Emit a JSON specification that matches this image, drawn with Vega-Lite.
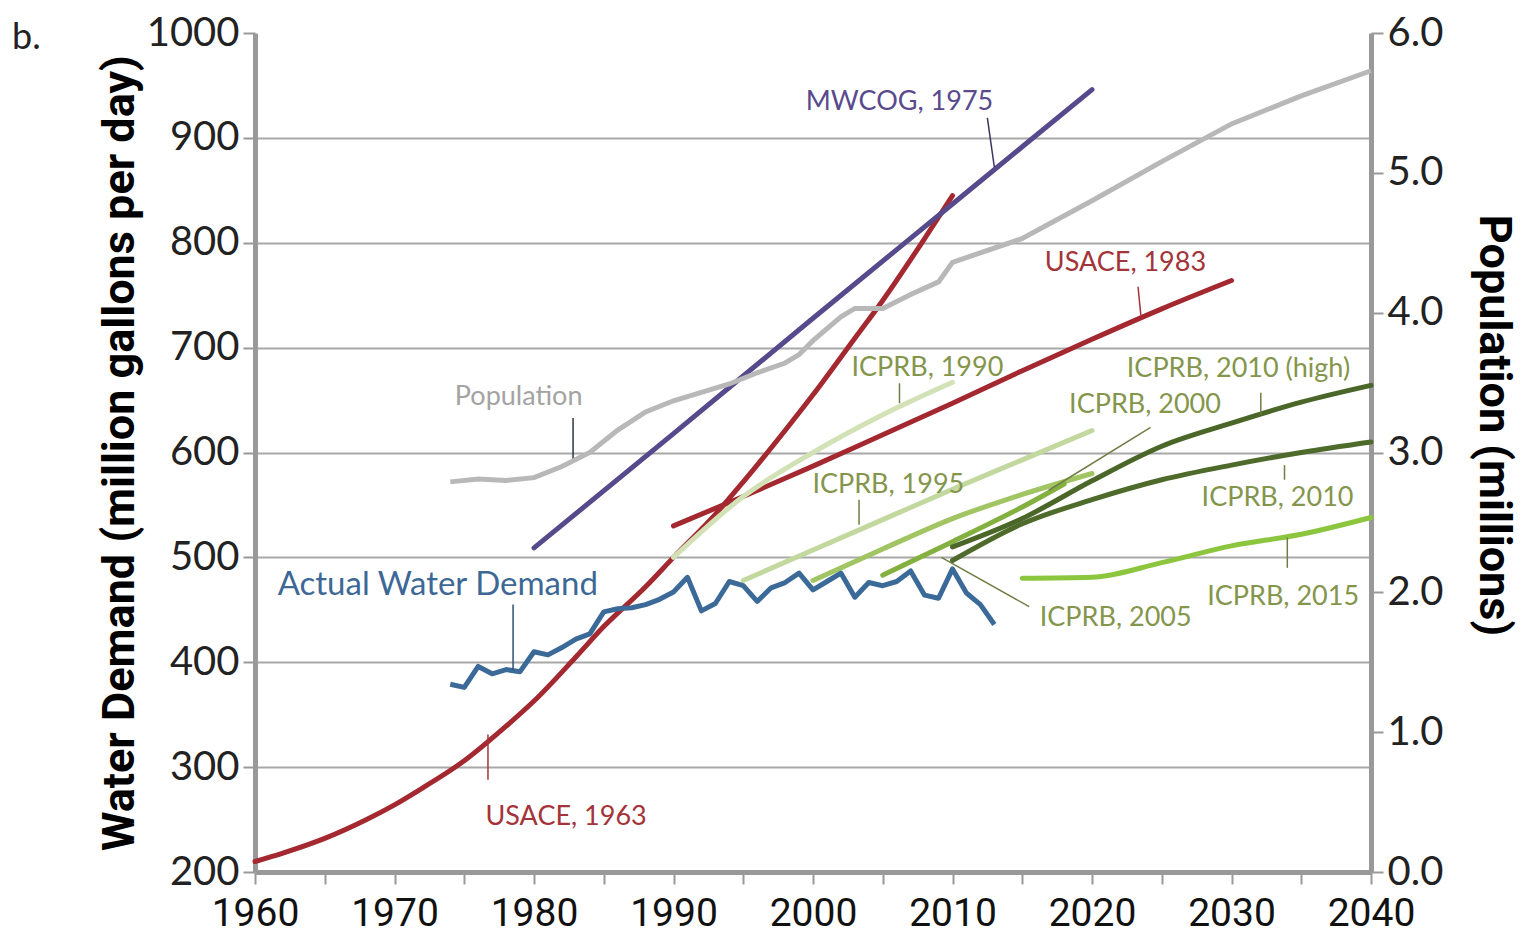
{
  "$schema": "https://vega.github.io/schema/vega-lite/v6.json",
  "width": 1116,
  "height": 839,
  "autosize": "none",
  "padding": {"left": 255, "top": 33, "right": 152, "bottom": 66},
  "background": "white",
  "config": {"view": {"stroke": null}, "font": "Lato"},
  "title": {"text": "b.", "anchor": "start", "frame": "group", "dx": -243, "dy": 44, "offset": 0, "fontSize": 36, "fontWeight": "normal", "font": "Lato", "color": "#222"},
  "datasets": {
    "actual": [
      {"year": 1974, "value": 379}, {"year": 1975, "value": 376}, {"year": 1976, "value": 396}, {"year": 1977, "value": 389},
      {"year": 1978, "value": 393}, {"year": 1979, "value": 391}, {"year": 1980, "value": 410}, {"year": 1981, "value": 407},
      {"year": 1982, "value": 414}, {"year": 1983, "value": 422}, {"year": 1984, "value": 427}, {"year": 1985, "value": 448},
      {"year": 1986, "value": 451}, {"year": 1987, "value": 452}, {"year": 1988, "value": 455}, {"year": 1989, "value": 460},
      {"year": 1990, "value": 467}, {"year": 1991, "value": 481}, {"year": 1992, "value": 449}, {"year": 1993, "value": 456},
      {"year": 1994, "value": 477}, {"year": 1995, "value": 473}, {"year": 1996, "value": 458}, {"year": 1997, "value": 471},
      {"year": 1998, "value": 476}, {"year": 1999, "value": 485}, {"year": 2000, "value": 469}, {"year": 2001, "value": 477},
      {"year": 2002, "value": 485}, {"year": 2003, "value": 462}, {"year": 2004, "value": 476}, {"year": 2005, "value": 473},
      {"year": 2006, "value": 477}, {"year": 2007, "value": 487}, {"year": 2008, "value": 464}, {"year": 2009, "value": 461},
      {"year": 2010, "value": 489}, {"year": 2011, "value": 466}, {"year": 2012, "value": 455}, {"year": 2013, "value": 436}
    ],
    "projections": [
      {"series": "USACE, 1963", "year": 1960, "value": 210}, {"series": "USACE, 1963", "year": 1962, "value": 218},
      {"series": "USACE, 1963", "year": 1965, "value": 232}, {"series": "USACE, 1963", "year": 1968, "value": 250},
      {"series": "USACE, 1963", "year": 1970, "value": 264}, {"series": "USACE, 1963", "year": 1972, "value": 280},
      {"series": "USACE, 1963", "year": 1975, "value": 306}, {"series": "USACE, 1963", "year": 1978, "value": 339},
      {"series": "USACE, 1963", "year": 1980, "value": 363}, {"series": "USACE, 1963", "year": 1983, "value": 405},
      {"series": "USACE, 1963", "year": 1985, "value": 434}, {"series": "USACE, 1963", "year": 1988, "value": 472},
      {"series": "USACE, 1963", "year": 1990, "value": 500}, {"series": "USACE, 1963", "year": 1993, "value": 541},
      {"series": "USACE, 1963", "year": 1995, "value": 572}, {"series": "USACE, 1963", "year": 1998, "value": 621},
      {"series": "USACE, 1963", "year": 2000, "value": 655}, {"series": "USACE, 1963", "year": 2003, "value": 709},
      {"series": "USACE, 1963", "year": 2005, "value": 745}, {"series": "USACE, 1963", "year": 2008, "value": 804},
      {"series": "USACE, 1963", "year": 2010, "value": 845},
      {"series": "MWCOG, 1975", "year": 1980, "value": 509}, {"series": "MWCOG, 1975", "year": 1990, "value": 618},
      {"series": "MWCOG, 1975", "year": 2000, "value": 728}, {"series": "MWCOG, 1975", "year": 2010, "value": 837},
      {"series": "MWCOG, 1975", "year": 2020, "value": 946},
      {"series": "USACE, 1983", "year": 1990, "value": 530}, {"series": "USACE, 1983", "year": 1995, "value": 558},
      {"series": "USACE, 1983", "year": 2000, "value": 587}, {"series": "USACE, 1983", "year": 2005, "value": 617},
      {"series": "USACE, 1983", "year": 2010, "value": 647}, {"series": "USACE, 1983", "year": 2015, "value": 678},
      {"series": "USACE, 1983", "year": 2020, "value": 708}, {"series": "USACE, 1983", "year": 2025, "value": 737},
      {"series": "USACE, 1983", "year": 2030, "value": 764},
      {"series": "ICPRB, 1990", "year": 1990, "value": 500}, {"series": "ICPRB, 1990", "year": 1995, "value": 558},
      {"series": "ICPRB, 1990", "year": 2000, "value": 600}, {"series": "ICPRB, 1990", "year": 2005, "value": 636},
      {"series": "ICPRB, 1990", "year": 2010, "value": 667},
      {"series": "ICPRB, 1995", "year": 1995, "value": 478}, {"series": "ICPRB, 1995", "year": 2000, "value": 507},
      {"series": "ICPRB, 1995", "year": 2005, "value": 536}, {"series": "ICPRB, 1995", "year": 2010, "value": 565},
      {"series": "ICPRB, 1995", "year": 2015, "value": 593}, {"series": "ICPRB, 1995", "year": 2020, "value": 621},
      {"series": "ICPRB, 2000", "year": 2000, "value": 478}, {"series": "ICPRB, 2000", "year": 2005, "value": 508},
      {"series": "ICPRB, 2000", "year": 2010, "value": 537}, {"series": "ICPRB, 2000", "year": 2015, "value": 560},
      {"series": "ICPRB, 2000", "year": 2020, "value": 580},
      {"series": "ICPRB, 2005", "year": 2005, "value": 483}, {"series": "ICPRB, 2005", "year": 2010, "value": 515},
      {"series": "ICPRB, 2005", "year": 2015, "value": 548}, {"series": "ICPRB, 2005", "year": 2018, "value": 570},
      {"series": "ICPRB, 2010", "year": 2010, "value": 497}, {"series": "ICPRB, 2010", "year": 2015, "value": 532},
      {"series": "ICPRB, 2010", "year": 2020, "value": 555}, {"series": "ICPRB, 2010", "year": 2025, "value": 574},
      {"series": "ICPRB, 2010", "year": 2030, "value": 588}, {"series": "ICPRB, 2010", "year": 2035, "value": 600},
      {"series": "ICPRB, 2010", "year": 2040, "value": 610},
      {"series": "ICPRB, 2010 (high)", "year": 2010, "value": 510}, {"series": "ICPRB, 2010 (high)", "year": 2015, "value": 537},
      {"series": "ICPRB, 2010 (high)", "year": 2020, "value": 573}, {"series": "ICPRB, 2010 (high)", "year": 2025, "value": 606},
      {"series": "ICPRB, 2010 (high)", "year": 2030, "value": 628}, {"series": "ICPRB, 2010 (high)", "year": 2035, "value": 648},
      {"series": "ICPRB, 2010 (high)", "year": 2040, "value": 664},
      {"series": "ICPRB, 2015", "year": 2015, "value": 480}, {"series": "ICPRB, 2015", "year": 2020, "value": 481},
      {"series": "ICPRB, 2015", "year": 2025, "value": 495}, {"series": "ICPRB, 2015", "year": 2030, "value": 511},
      {"series": "ICPRB, 2015", "year": 2035, "value": 522}, {"series": "ICPRB, 2015", "year": 2040, "value": 538}
    ],
    "population": [
      {"year": 1974, "pop": 2.79}, {"year": 1976, "pop": 2.81}, {"year": 1978, "pop": 2.80}, {"year": 1980, "pop": 2.82},
      {"year": 1982, "pop": 2.90}, {"year": 1984, "pop": 3.00}, {"year": 1986, "pop": 3.16}, {"year": 1988, "pop": 3.29},
      {"year": 1990, "pop": 3.37}, {"year": 1992, "pop": 3.43}, {"year": 1994, "pop": 3.49}, {"year": 1996, "pop": 3.57},
      {"year": 1998, "pop": 3.64}, {"year": 1999, "pop": 3.70}, {"year": 2000, "pop": 3.80}, {"year": 2002, "pop": 3.97},
      {"year": 2003, "pop": 4.03}, {"year": 2005, "pop": 4.03}, {"year": 2007, "pop": 4.13}, {"year": 2009, "pop": 4.22},
      {"year": 2010, "pop": 4.36}, {"year": 2015, "pop": 4.53}, {"year": 2020, "pop": 4.80}, {"year": 2025, "pop": 5.08},
      {"year": 2030, "pop": 5.35}, {"year": 2035, "pop": 5.55}, {"year": 2040, "pop": 5.73}
    ],
    "labels": [
      {"kind": "MWCOG", "label": "MWCOG, 1975", "year": 2006.2, "value": 934},
      {"kind": "Population", "label": "Population", "year": 1978.9, "value": 653},
      {"kind": "ICPRB", "label": "ICPRB, 1990", "year": 2008.2, "value": 681},
      {"kind": "USACE", "label": "USACE, 1983", "year": 2022.4, "value": 781},
      {"kind": "ICPRB", "label": "ICPRB, 2010 (high)", "year": 2030.5, "value": 680},
      {"kind": "ICPRB", "label": "ICPRB, 2000", "year": 2023.8, "value": 645},
      {"kind": "ICPRB", "label": "ICPRB, 1995", "year": 2005.4, "value": 569},
      {"kind": "ICPRB", "label": "ICPRB, 2010", "year": 2033.3, "value": 557},
      {"kind": "ICPRB", "label": "ICPRB, 2015", "year": 2033.7, "value": 462},
      {"kind": "ICPRB", "label": "ICPRB, 2005", "year": 2021.7, "value": 442},
      {"kind": "USACE", "label": "USACE, 1963", "year": 1982.3, "value": 252}
    ],
    "bigLabels": [
      {"kind": "Actual", "label": "Actual Water Demand", "year": 1973.1, "value": 474}
    ],
    "pointers": [
      {"kind": "MWCOG", "year": 2012.5, "value": 919, "year2": 2013.0, "value2": 872},
      {"kind": "Population", "year": 1982.8, "value": 633, "year2": 1982.8, "value2": 591},
      {"kind": "ICPRB", "year": 2006.2, "value": 666, "year2": 2006.2, "value2": 647},
      {"kind": "USACE", "year": 2023.3, "value": 758, "year2": 2023.5, "value2": 731},
      {"kind": "ICPRB", "year": 2032.1, "value": 657, "year2": 2032.1, "value2": 636},
      {"kind": "ICPRB", "year": 2024.2, "value": 624, "year2": 2016.9, "value2": 564},
      {"kind": "ICPRB", "year": 2003.3, "value": 555, "year2": 2003.3, "value2": 531},
      {"kind": "ICPRB", "year": 2033.8, "value": 588, "year2": 2033.8, "value2": 574},
      {"kind": "Actual", "year": 1978.5, "value": 455, "year2": 1978.5, "value2": 393},
      {"kind": "ICPRB", "year": 2034.0, "value": 519, "year2": 2034.0, "value2": 490},
      {"kind": "ICPRB", "year": 2015.5, "value": 453, "year2": 2009.2, "value2": 500},
      {"kind": "USACE", "year": 1976.7, "value": 331, "year2": 1976.7, "value2": 288}
    ]
  },
  "encoding": {
    "x": {
      "field": "year", "type": "quantitative",
      "scale": {"domain": [1960, 2040], "nice": false, "zero": false},
      "axis": {
        "values": [1960, 1965, 1970, 1975, 1980, 1985, 1990, 1995, 2000, 2005, 2010, 2015, 2020, 2025, 2030, 2035, 2040],
        "labelExpr": "datum.value % 10 == 0 ? datum.value : ''",
        "title": null, "grid": false,
        "domainColor": "#999999", "domainWidth": 5,
        "tickColor": "#999999", "tickWidth": 2, "tickSize": 12,
        "labelFont": "Roboto", "labelFontSize": 39, "labelColor": "#111111", "labelPadding": 10,
        "labelOverlap": false, "labelFlush": false, "labelBound": false
      }
    }
  },
  "layer": [
    {
      "encoding": {
        "y": {
          "field": "value", "type": "quantitative",
          "scale": {"domain": [200, 1000], "nice": false, "zero": false},
          "axis": {
            "values": [200, 300, 400, 500, 600, 700, 800, 900, 1000],
            "format": "d",
            "title": "Water Demand  (million gallons per day)",
            "titleFont": "Roboto", "titleFontWeight": "bold", "titleFontSize": 45, "titleColor": "#000000", "titlePadding": 4,
            "labelFont": "Lato", "labelFontSize": 40, "labelColor": "#222222", "labelPadding": 4,
            "labelFlush": false,
            "domainColor": "#999999", "domainWidth": 5,
            "tickColor": "#999999", "tickWidth": 2, "tickSize": 12,
            "grid": true, "gridColor": "#a8a8a8", "gridWidth": 2,
            "gridOpacity": {"condition": {"test": "datum.value >= 1000 || datum.value <= 200", "value": 0}, "value": 1}
          }
        }
      },
      "layer": [
        {
          "data": {"name": "projections"},
          "mark": {"type": "line", "strokeWidth": 5, "interpolate": "monotone", "strokeCap": "round"},
          "encoding": {
            "color": {
              "field": "series", "type": "nominal", "legend": null,
              "scale": {
                "domain": ["ICPRB, 1990", "ICPRB, 1995", "ICPRB, 2000", "ICPRB, 2005", "ICPRB, 2015", "ICPRB, 2010", "ICPRB, 2010 (high)", "USACE, 1983", "MWCOG, 1975", "USACE, 1963"],
                "range": ["#d2e2b6", "#c2d89e", "#a0c562", "#84b040", "#8cc63f", "#4e6b2b", "#4a6628", "#a3282f", "#574a8c", "#a3282f"]
              }
            }
          }
        },
        {
          "data": {"name": "actual"},
          "mark": {"type": "line", "strokeWidth": 5, "color": "#3b6a99", "strokeJoin": "round"},
          "encoding": {}
        },
        {
          "layer": [
            {
              "data": {"name": "pointers"},
              "mark": {"type": "rule", "strokeWidth": 1.5},
              "encoding": {
                "x2": {"field": "year2"},
                "y2": {"field": "value2"},
                "color": {"field": "kind", "type": "nominal", "legend": null,
                  "scale": {"domain": ["MWCOG", "Population", "USACE", "Actual", "ICPRB"], "range": ["#3d3560", "#2c3642", "#a3343a", "#2f4f6f", "#6f7d45"]}}
              }
            },
            {
              "data": {"name": "labels"},
              "mark": {"type": "text", "font": "Lato", "fontSize": 27, "align": "center", "baseline": "middle"},
              "encoding": {
                "text": {"field": "label"},
                "color": {"field": "kind", "type": "nominal", "legend": null,
                  "scale": {"domain": ["MWCOG", "Population", "USACE", "Actual", "ICPRB"], "range": ["#5a4a8c", "#a3a3a3", "#a3343a", "#3d6896", "#84954c"]}}
              }
            },
            {
              "data": {"name": "bigLabels"},
              "mark": {"type": "text", "font": "Lato", "fontSize": 33, "align": "center", "baseline": "middle", "color": "#3d6896"},
              "encoding": {"text": {"field": "label"}}
            }
          ],
          "resolve": {"scale": {"color": "independent"}}
        }
      ],
      "resolve": {"scale": {"color": "independent"}}
    },
    {
      "data": {"name": "population"},
      "mark": {"type": "line", "strokeWidth": 5, "color": "#b8b8b8"},
      "encoding": {
        "y": {
          "field": "pop", "type": "quantitative",
          "scale": {"domain": [0, 6], "nice": false, "zero": false},
          "axis": {
            "orient": "right",
            "values": [0, 1, 2, 3, 4, 5, 6], "format": ".1f",
            "title": "Population (millions)",
            "titleFont": "Roboto", "titleFontWeight": "bold", "titleFontSize": 45, "titleColor": "#000000", "titlePadding": 28,
            "titleY": 392,
            "labelFont": "Lato", "labelFontSize": 40, "labelColor": "#222222", "labelPadding": 4,
            "labelFlush": false,
            "domainColor": "#999999", "domainWidth": 5,
            "tickColor": "#999999", "tickWidth": 2, "tickSize": 12,
            "grid": false
          }
        }
      }
    }
  ],
  "resolve": {"scale": {"y": "independent"}}
}
